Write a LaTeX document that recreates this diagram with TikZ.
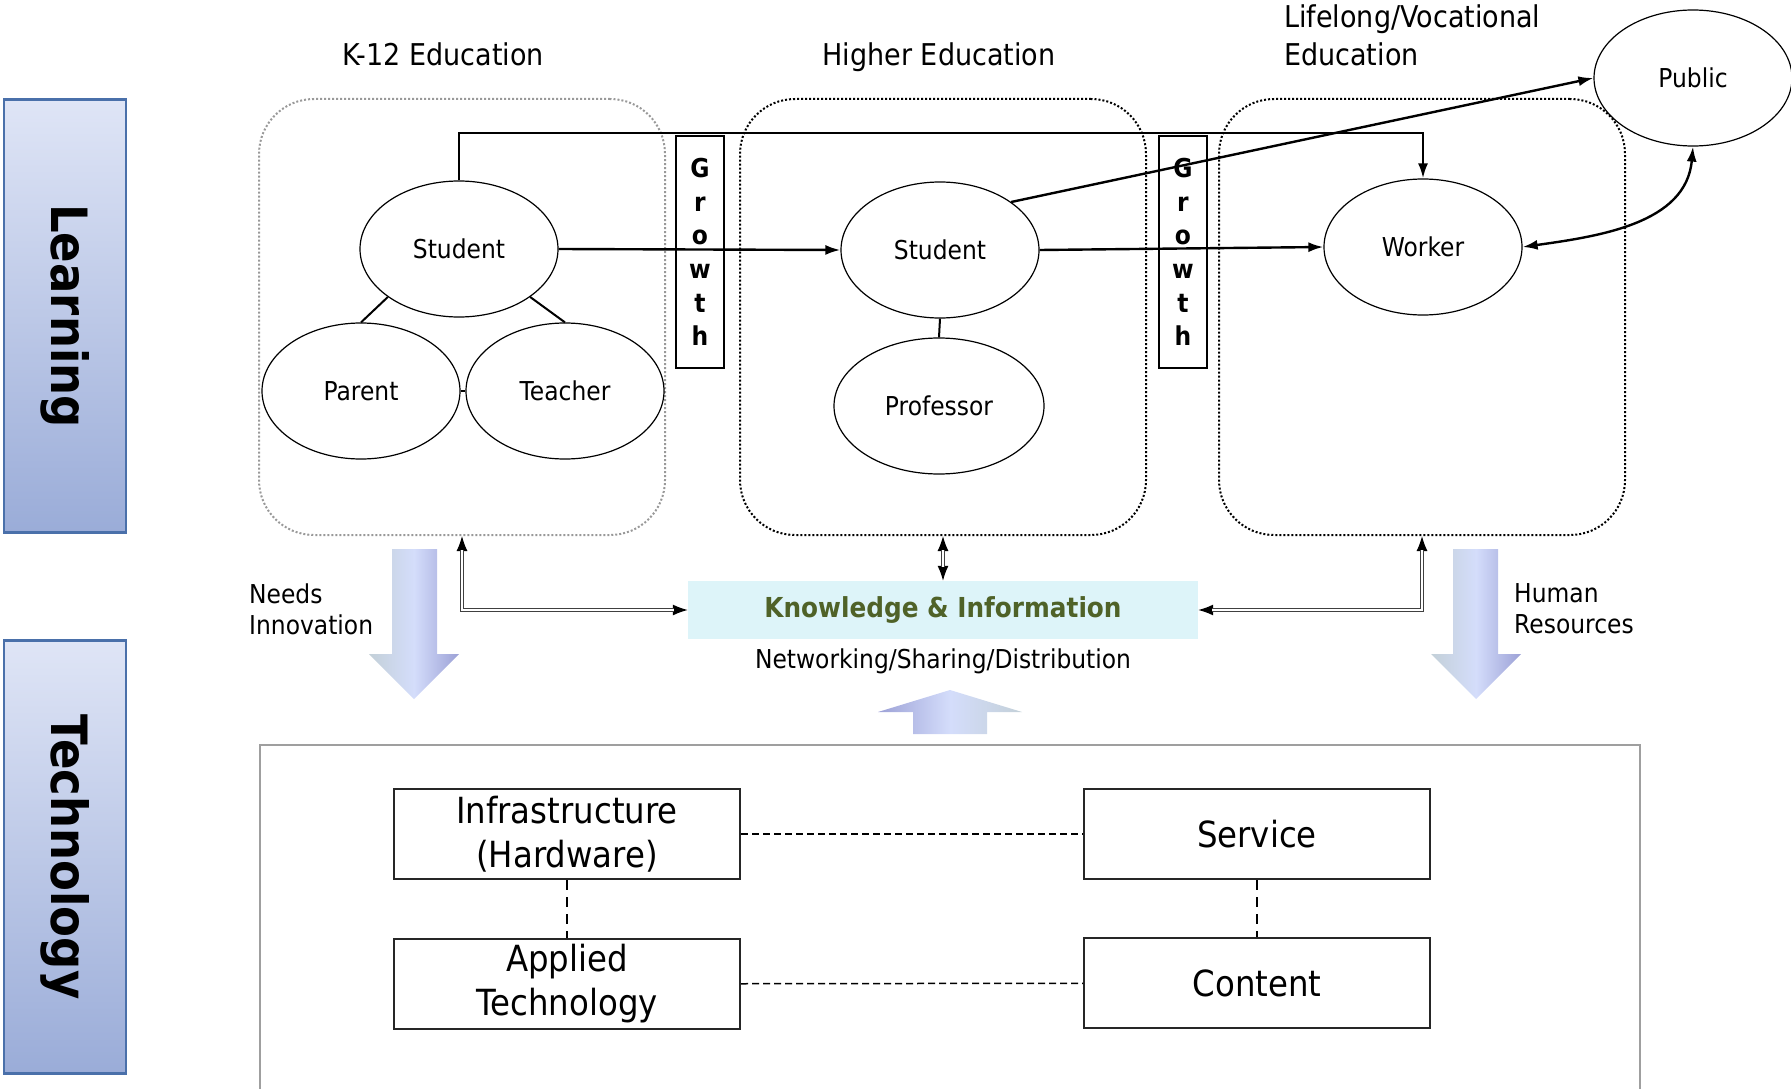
\documentclass[tikz,border=0pt]{standalone}
\usepackage{fontspec}
\setmainfont[FakeStretch=0.9]{DejaVu Sans}
\usetikzlibrary{shapes.geometric, arrows.meta, positioning}

\definecolor{panelTop}{HTML}{DFE5F6}
\definecolor{panelBot}{HTML}{9AACD8}
\definecolor{panelEdge}{HTML}{4A70AA}
\definecolor{knowFill}{HTML}{DDF4F9}
\definecolor{knowText}{HTML}{4F6228}
\definecolor{arrLight}{HTML}{D4DDFB}
\definecolor{arrDark}{HTML}{9CA1D6}
\definecolor{arrGreen}{HTML}{C3D0D8}

\begin{document}
\begin{tikzpicture}[x=1pt, y=-1pt,
    sidebox/.style={draw=panelEdge, line width=2.5pt, top color=panelTop, bottom color=panelBot,
        rotate=-90, minimum width=433pt, minimum height=122pt, font=\fontsize{50}{56}\selectfont\bfseries},
    zone/.style={draw, rounded corners=55pt, line width=2pt, dash pattern=on 2pt off 2pt,
        minimum width=406pt, minimum height=436pt},
    head/.style={inner sep=0pt, font=\fontsize{30}{38}\selectfont},
    ell/.style={ellipse, draw, line width=1.2pt, fill=white, inner sep=0pt,
        minimum width=198pt, minimum height=136pt, font=\fontsize{26}{30}\selectfont},
    growbox/.style={draw, line width=1.4pt, minimum width=48pt, minimum height=232pt, align=center,
        font=\fontsize{26}{33.6}\selectfont\bfseries},
    link/.style={line width=2.4pt, -{Latex[length=15pt,width=10pt]}},
    tie/.style={line width=2pt},
    know/.style={fill=knowFill, minimum width=510pt, minimum height=58pt, text=knowText,
        font=\fontsize{27.5}{32}\selectfont\bfseries},
    ktip/.style={line width=1.2pt, {Latex[length=15pt,width=11pt]}-{Latex[length=15pt,width=11pt]}},
    kdbl/.style={draw=black!75, double=white, double distance=1.6pt, line width=1.1pt,
        shorten <=14pt, shorten >=14pt},
    side/.style={inner sep=0pt, align=left, font=\fontsize{26}{31}\selectfont},
    techbox/.style={draw=black!85, line width=2pt, minimum width=346pt, minimum height=90pt, align=center,
        font=\fontsize{36}{44}\selectfont},
    hdash/.style={line width=1.5pt, dash pattern=on 7pt off 4pt},
    vdash/.style={line width=1.2pt, dash pattern=on 10pt off 7pt}
]
    \useasboundingbox (0,0) rectangle (1791,1089);

    % side panels
    \node[sidebox] (learn) at (65,316) {Learning};
    \node[sidebox] (tech) at (65,857) {Technology};

    % three stages of education
    \node[zone, draw=gray!80] (k12) at (462,317) {};
    \node[zone] (high) at (943,317) {};
    \node[zone] (life) at (1422,317) {};
    \node[head, anchor=base] (k12lbl) at (443,66) {K-12 Education};
    \node[head, anchor=base] (highlbl) at (939,66) {Higher Education};
    \node[head, anchor=west, align=left] (lifelbl) at (1284,35) {Lifelong/Vocational\\Education};

    % people
    \node[ell] (kstu) at (459,249) {Student};
    \node[ell] (par) at (361,391) {Parent};
    \node[ell] (tea) at (565,391) {Teacher};
    \node[ell] (hstu) at (940,250) {Student};
    \node[ell, minimum width=210pt] (prof) at (939,406) {Professor};
    \node[ell] (wrk) at (1423,247) {Worker};
    \node[ell] (pub) at (1693,78) {Public};

    \node[growbox] (grow1) at (700,252) {G\\r\\o\\w\\t\\h};
    \node[growbox] (grow2) at (1183,252) {G\\r\\o\\w\\t\\h};

    \draw[tie] (kstu.214) -- (par.north);
    \draw[tie] (kstu.326) -- (tea.north);
    \draw[tie] (par.east) -- (tea.west);
    \draw[tie] (hstu.south) -- (prof.north);

    \coordinate (rail) at (900,133);
    \draw[link] (kstu.north) |- (rail) -| (wrk.north);
    \draw[link] (kstu.east) -- (hstu.west);
    \draw[link] (hstu.east) -- (wrk.west);
    \draw[link] (hstu.34) -- (pub.west);
    \draw[link, {Latex[length=15pt,width=10pt]}-{Latex[length=15pt,width=10pt]}]
        (wrk.east) to[out=8, in=-95] (pub.south);

    % knowledge in the middle
    \node[know] (know) at (943,610) {Knowledge \& Information};
    \node[side, below=9pt of know] (netlbl) {Networking/Sharing/Distribution};

    \draw[ktip] (k12.south) |- (know.west);
    \draw[kdbl] (k12.south) |- (know.west);
    \draw[ktip] (high.south) -- (know.north);
    \draw[kdbl] (high.south) -- (know.north);
    \draw[ktip] (life.south) |- (know.east);
    \draw[kdbl] (life.south) |- (know.east);

    % big shaded arrows
    \shade[left color=arrGreen, right color=arrDark, middle color=arrLight]
        (392,549) -- (437,549) -- (437,654) -- (459,654) -- (414,699) -- (369,654) -- (392,654) -- cycle;
    \shade[left color=arrGreen, right color=arrDark, middle color=arrLight]
        (1453,549) -- (1498,549) -- (1498,654) -- (1521,654) -- (1476,699) -- (1431,654) -- (1453,654) -- cycle;
    \shade[left color=arrDark, right color=arrGreen, middle color=arrLight]
        (913,734) -- (913,712) -- (878,712) -- (950,690) -- (1022,712) -- (987,712) -- (987,734) -- cycle;
    \node[side, anchor=west] (needs) at (249,609) {Needs\\Innovation};
    \node[side, anchor=west] (human) at (1514,609) {Human\\Resources};

    % technology layer
    \draw[gray!75, line width=1.5pt] (260,1089) |- (1640,745) -- (1640,1089);
    \node[techbox] (infra) at (567,834) {Infrastructure\\(Hardware)};
    \node[techbox] (serv) at (1257,834) {Service};
    \node[techbox] (appl) at (567,984) {Applied\\Technology};
    \node[techbox] (cont) at (1257,983) {Content};
    \draw[hdash] (infra) -- (serv);
    \draw[hdash] (appl) -- (cont);
    \draw[vdash] (infra) -- (appl);
    \draw[vdash] (serv) -- (cont);
\end{tikzpicture}
\end{document}
